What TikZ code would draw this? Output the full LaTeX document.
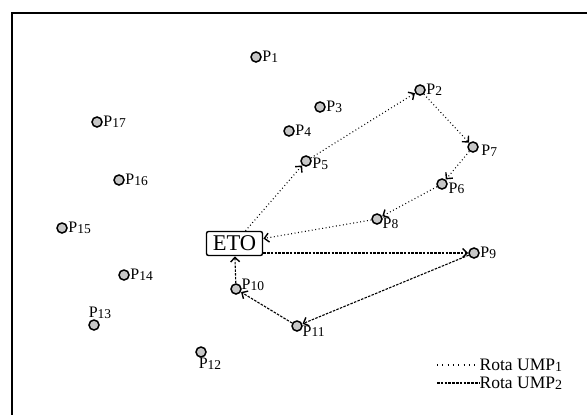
\documentclass[tikz,border=0pt]{standalone}
\usepackage{fontspec}
\setmainfont{Liberation Serif}
\usetikzlibrary{arrows.meta}
% point name with a small index set on the baseline
\newcommand\pn[1]{P\raisebox{-0.7pt}{\fontsize{13.5}{14}\selectfont #1}}
\newcommand\umpname[1]{Rota UMP\raisebox{-0.7pt}{\fontsize{14}{14}\selectfont #1}}
\begin{document}
\begin{tikzpicture}[x=1pt,y=-1pt,
  site/.style={circle,draw,line width=1.5pt,fill=black!22,minimum size=10pt,inner sep=0pt},
  lbl/.style={font=\fontsize{16}{16}\selectfont,inner sep=0.5pt},
  legendtext/.style={font=\fontsize{17.5}{18}\selectfont,inner sep=0.5pt,anchor=west},
  tip/.style={-{Straight Barb[length=4.5pt,width=9pt,line width=1.4pt]},shorten >=0.2pt},
  dotline/.style={line width=1.1pt,dash pattern=on 0.9pt off 2.6pt},
  dashline/.style={line width=1.1pt,dash pattern=on 2.5pt off 1.3pt},
  ump1/.style={dotline,tip},
  ump2/.style={dashline,tip},
  depot/.style={draw,rounded corners=2pt,line width=1.4pt,font=\fontsize{22.5}{22}\selectfont,
    inner sep=1pt,minimum width=56pt,minimum height=24pt}
]
\useasboundingbox (0,0) rectangle (587,415);
% frame
\draw[line width=1.3pt] (12,415) -- (12,13) -- (587,13);

% depot
\node[depot] (eto) at (234.5,243.5) {ETO};

% customer points
\node[site,label={[lbl,anchor=west]0:\pn{1}}]  (p1)  at (256,57)  {};
\node[site,label={[lbl,anchor=west]0:\pn{2}}]  (p2)  at (420,90)  {};
\node[site,label={[lbl,anchor=west]0:\pn{3}}]  (p3)  at (320,107) {};
\node[site,label={[lbl,anchor=west]0:\pn{4}}]  (p4)  at (289,131) {};
\node[site,label={[lbl,anchor=west,yshift=-3pt]0:\pn{5}}]  (p5)  at (306,161) {};
\node[site,label={[lbl,anchor=north west,xshift=1pt,yshift=5pt]-30:\pn{6}}]  (p6)  at (442,184) {};
\node[site,label={[lbl,anchor=west,xshift=2pt,yshift=-4pt]0:\pn{7}}]  (p7)  at (473,147) {};
\node[site,label={[lbl,anchor=north west,yshift=5pt]-30:\pn{8}}]  (p8)  at (377,219) {};
\node[site,label={[lbl,anchor=west]0:\pn{9}}]  (p9)  at (474,253) {};
\node[site,label={[lbl,anchor=south west,yshift=-5pt]30:\pn{10}}] (p10) at (236,289) {};
\node[site,label={[lbl,anchor=north west,yshift=4pt]-30:\pn{11}}] (p11) at (297,326) {};
\node[site,label={[lbl,anchor=north,xshift=9pt]-90:\pn{12}}] (p12) at (201,352) {};
\node[site,label={[lbl,anchor=south,xshift=6pt]90:\pn{13}}]  (p13) at (94,325)  {};
\node[site,label={[lbl,anchor=west]0:\pn{14}}] (p14) at (124,275) {};
\node[site,label={[lbl,anchor=west]0:\pn{15}}] (p15) at (62,228)  {};
\node[site,label={[lbl,anchor=west]0:\pn{16}}] (p16) at (119,180) {};
\node[site,label={[lbl,anchor=west]0:\pn{17}}] (p17) at (97,122)  {};

% route UMP1
\draw[ump1] (eto) -- (p5);
\draw[ump1] (p5) -- (p2);
\draw[ump1] (p2) -- (p7);
\draw[ump1] (p7) -- (p6);
\draw[ump1] (p6) -- (p8);
\draw[ump1] (p8) -- (eto);

% route UMP2
\draw[ump2] (eto.east |- p9) -- (p9);
\draw[ump2] (p9) -- (p11);
\draw[ump2] (p11) -- (p10);
\draw[ump2] (p10) -- (eto);

% legend
\coordinate (la) at (437,365);
\coordinate (lb) at (479,365);
\coordinate (lc) at (437,383);
\coordinate (ld) at (479,383);
\draw[line width=1.1pt,dash pattern=on 0.9pt off 4.4pt] (la) -- (lb);
\draw[dashline] (lc) -- (ld);
\node[legendtext] (leg1) at (lb) {\umpname{1}};
\node[legendtext] (leg2) at (ld) {\umpname{2}};
\end{tikzpicture}
\end{document}
